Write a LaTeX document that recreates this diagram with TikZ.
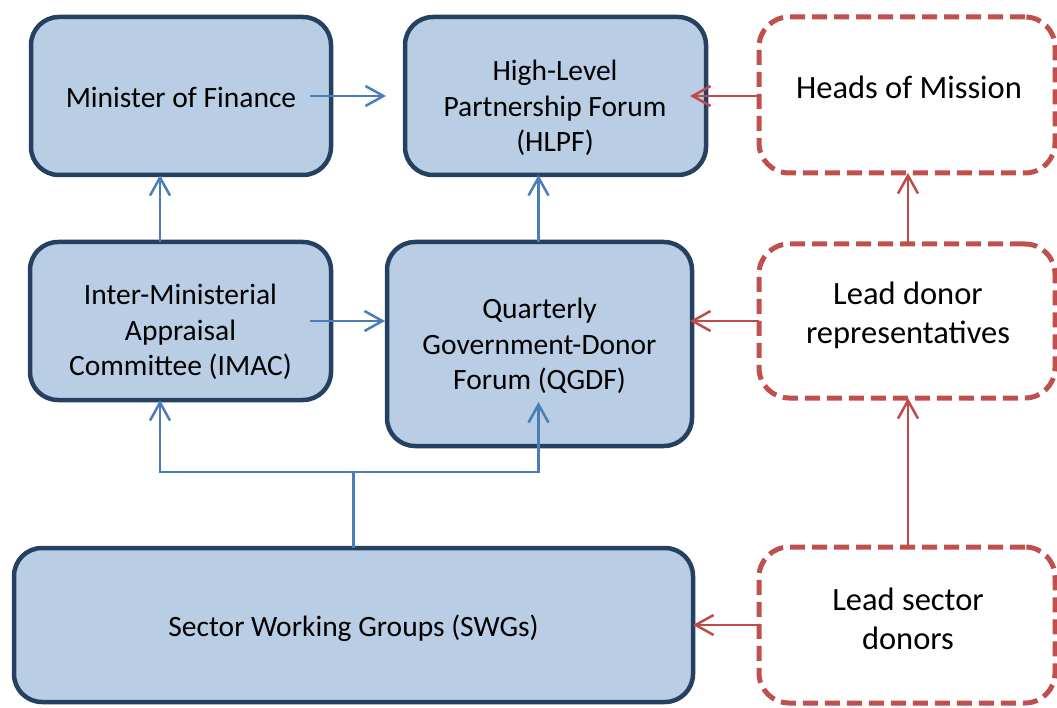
\documentclass[tikz,border=0pt]{standalone}
\usepackage{fontspec}
\setmainfont{Carlito}
\usetikzlibrary{arrows.meta}
\definecolor{boxfill}{HTML}{B9CDE5}
\definecolor{boxline}{HTML}{254061}
\definecolor{bluearrow}{HTML}{4A7EBB}
\definecolor{redline}{HTML}{C0504D}
\definecolor{redarrow}{HTML}{BE4B48}
\tikzset{
  bluebox/.style={draw=boxline, fill=boxfill, line width=4.5pt, rounded corners=28pt, outer sep=0pt, inner sep=0pt},
  redbox/.style={draw=redline, line width=5pt, dash pattern=on 15pt off 7pt, rounded corners=30pt, outer sep=0pt, inner sep=0pt},
  txt/.style={font=\fontsize{29.5}{35.5}\selectfont, align=center, inner sep=0pt},
  rtxt/.style={font=\fontsize{32.5}{39}\selectfont, align=center, inner sep=0pt},
  barrow/.style={draw=bluearrow, line width=2.5pt, -{Straight Barb[length=18pt,width=20pt]}},
  rarrow/.style={draw=redarrow, line width=2.5pt, -{Straight Barb[length=18pt,width=20pt]}},
}
\begin{document}
\begin{tikzpicture}[x=1pt,y=-1pt]
\useasboundingbox (0,0) rectangle (1057,708);
% boxes
\node[bluebox, minimum width=300pt, minimum height=158pt] (mof) at (181,96) {};
\node[bluebox, minimum width=301pt, minimum height=158pt] (hlpf) at (555.5,96) {};
\node[redbox, minimum width=296pt, minimum height=156pt] (hom) at (907,95) {};
\node[bluebox, minimum width=301pt, minimum height=158pt] (imac) at (180.5,321) {};
\node[bluebox, minimum width=305pt, minimum height=204pt] (qgdf) at (539.5,344) {};
\node[redbox, minimum width=296pt, minimum height=154pt] (ldr) at (907,321) {};
\node[bluebox, minimum width=679pt, minimum height=154pt] (swg) at (353.5,625) {};
\node[redbox, minimum width=296pt, minimum height=156pt] (lsd) at (907,625) {};
% texts
\node[txt] (moft) at (181,97) {Minister of Finance};
\node[txt] (hlpft) at (555,108) {High-Level\\Partnership Forum\\(HLPF)};
\node[rtxt] (homt) at (909,87) {Heads of Mission};
\node[txt] (imact) at (180.5,332) {Inter-Ministerial\\Appraisal\\Committee (IMAC)};
\node[txt] (qgdft) at (539.5,346) {Quarterly\\Government-Donor\\Forum (QGDF)};
\node[rtxt] (ldrt) at (908,315) {Lead donor\\representatives};
\node[txt] (swgt) at (353.5,628) {Sector Working Groups (SWGs)};
\node[rtxt] (lsdt) at (908,619) {Lead sector\\donors};
% connectors
\coordinate (j) at (353.5,472);
\draw[barrow] ([xshift=-21pt]mof.east) -- ([xshift=-19pt]hlpf.west);
\draw[rarrow] (hom.west |- hlpf.east) -- ([xshift=-16pt]hlpf.east);
\draw[barrow] ([xshift=-20.5pt]imac.north) -- ([xshift=-20.5pt]imac.north |- mof.south);
\draw[barrow] ([xshift=-1pt]qgdf.north) -- ([xshift=-1pt]qgdf.north |- hlpf.south);
\draw[barrow] ([xshift=-21pt]imac.east) -- ([xshift=-2pt]qgdf.west |- imac.east);
\draw[rarrow] (ldr.west) -- ([xshift=-2pt]qgdf.east |- ldr.west);
\draw[rarrow] ([xshift=1pt]ldr.north) -- ([xshift=1pt]ldr.north |- hom.south);
\draw[rarrow] ([xshift=1pt]lsd.north) -- ([xshift=1pt]lsd.north |- ldr.south);
\draw[rarrow] (lsd.west) -- (swg.east |- lsd.west);
\draw[barrow] (swg.north) -- (j) -| ([xshift=-20.5pt]imac.south);
\draw[barrow] (j) -| ([xshift=-1pt,yshift=44pt]qgdf.south);
\end{tikzpicture}
\end{document}
